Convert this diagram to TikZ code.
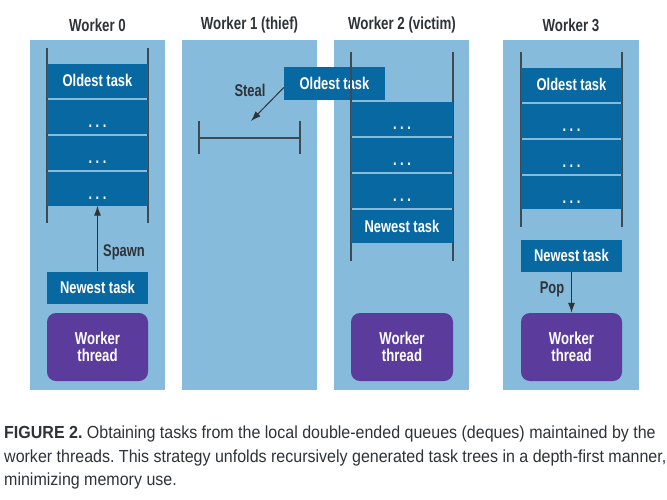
\documentclass[tikz,border=0pt]{standalone}
\usepackage{fontspec}
\setmainfont{Liberation Sans}
\newfontfamily\cond[FakeStretch=0.76]{Liberation Sans}
\newfontfamily\capfont[FakeStretch=0.915]{Liberation Sans}
\usetikzlibrary{arrows.meta}
\definecolor{panelblue}{HTML}{86BBDB}
\definecolor{taskblue}{HTML}{0868A1}
\definecolor{threadpurple}{HTML}{5B3B9B}
\definecolor{inkgray}{HTML}{2E3338}
\definecolor{wallgray}{HTML}{3E4952}
\newcommand{\tdots}{\raisebox{-5pt}{. . .}}
\frenchspacing
\begin{document}
\begin{tikzpicture}[x=1pt,y=-1pt,
  panel/.style={fill=panelblue,draw=none},
  title/.style={text=inkgray,font=\cond\bfseries\fontsize{17.5}{19}\selectfont,inner sep=0},
  taskbox/.style={fill=taskblue,draw=none,text=white,font=\cond\bfseries\fontsize{17}{19}\selectfont,minimum width=101pt,minimum height=34pt,inner sep=0,text height=11.5pt,text depth=0pt},
  newbox/.style={taskbox,minimum height=32pt},
  thread/.style={fill=threadpurple,draw=none,rounded corners=9pt,text=white,font=\cond\bfseries\fontsize{17.3}{18}\selectfont,minimum width=101pt,minimum height=68pt,inner sep=0,align=center},
  wall/.style={draw=wallgray,line width=1.1pt},
  lbl/.style={text=inkgray,font=\cond\bfseries\fontsize{17}{19}\selectfont,inner sep=0},
  arr/.style={draw=inkgray,line width=1pt,-{Latex[length=10pt,width=7pt]}},
]
\useasboundingbox (0,0) rectangle (667,499);
\fill[white] (0,0) rectangle (667,499);

% panels
\fill[panel] (30,40) rectangle (165,390);
\fill[panel] (182,40) rectangle (317,390);
\fill[panel] (334,40) rectangle (469,390);
\fill[panel] (503,40) rectangle (639,390);

% titles
\node[title] (t0) at (97.5,25) {Worker 0};
\node[title] (t1) at (249.5,25) {Worker 1 (thief)};
\node[title] (t2) at (402,25) {Worker 2 (victim)};
\node[title] (t3) at (571,25) {Worker 3};

% ---- Worker 0
\coordinate (w0lt) at (47,48);  \coordinate (w0lb) at (47,223);
\coordinate (w0rt) at (148,48); \coordinate (w0rb) at (148,223);
\draw[wall] (w0lt) -- (w0lb);
\draw[wall] (w0rt) -- (w0rb);
\node[taskbox] (o0) at (97.5,81) {Oldest task};
\node[taskbox] (d01) at (97.5,117) {\tdots};
\node[taskbox] (d02) at (97.5,153) {\tdots};
\node[taskbox] (d03) at (97.5,188.5) {\tdots};
\node[newbox] (n0) at (97.5,287.5) {Newest task};
\node[thread] (th0) at (97.5,347) {Worker\\[-1pt]thread};
\draw[arr] (n0.north) -- (d03.south);
\node[lbl] (spawn) at (124,252) {Spawn};

% ---- Worker 1
\coordinate (b1lt) at (199,121); \coordinate (b1lb) at (199,154);
\coordinate (b1rt) at (300,121); \coordinate (b1rb) at (300,154);
\coordinate (b1lm) at (199,138); \coordinate (b1rm) at (300,138);
\draw[wall] (b1lt) -- (b1lb);
\draw[wall] (b1rt) -- (b1rb);
\draw[wall] (b1lm) -- (b1rm);
\node[lbl] (steal) at (250,90) {Steal};
\node[taskbox,minimum height=33pt] (stolen) at (334.5,83.5) {Oldest task};
\coordinate (stealto) at (251,121);
\draw[arr] ([yshift=-4pt]stolen.west) -- (stealto);

% ---- Worker 2
\coordinate (w2lt) at (351,52);  \coordinate (w2lb) at (351,261);
\coordinate (w2rt) at (453,52);  \coordinate (w2rb) at (453,261);
\draw[wall] (w2lt) -- (w2lb);
\draw[wall] (w2rt) -- (w2rb);
\node[taskbox,minimum width=102pt] (d21) at (402,119) {\tdots};
\node[taskbox,minimum width=102pt] (d22) at (402,155) {\tdots};
\node[taskbox,minimum width=102pt] (d23) at (402,191) {\tdots};
\node[taskbox,minimum width=102pt,minimum height=33pt] (n2) at (402,226.5) {Newest task};
\node[thread,minimum width=102pt] (th2) at (402,347) {Worker\\[-1pt]thread};

% ---- Worker 3
\coordinate (w3lt) at (521,52);  \coordinate (w3lb) at (521,227);
\coordinate (w3rt) at (622,52);  \coordinate (w3rb) at (622,227);
\draw[wall] (w3lt) -- (w3lb);
\draw[wall] (w3rt) -- (w3rb);
\node[taskbox] (o3) at (571.5,85) {Oldest task};
\node[taskbox] (d31) at (571.5,121) {\tdots};
\node[taskbox] (d32) at (571.5,157) {\tdots};
\node[taskbox,minimum height=33pt] (d33) at (571.5,192.5) {\tdots};
\node[newbox] (n3) at (571.5,256) {Newest task};
\node[thread] (th3) at (571.5,347) {Worker\\[-1pt]thread};
\draw[arr] (n3.south) -- (th3.north);
\node[lbl] (pop) at (552,289) {Pop};

% ---- caption
\node[anchor=north west,inner sep=0,align=left,text=inkgray,
      font=\capfont\fontsize{17.5}{23.5}\selectfont] (cap) at (4,426)
  {\textbf{FIGURE 2.} Obtaining tasks from the local double-ended queues (deques) maintained by the\\
   worker threads. This strategy unfolds recursively generated task trees in a depth-first manner,\\
   minimizing memory use.};
\end{tikzpicture}
\end{document}
